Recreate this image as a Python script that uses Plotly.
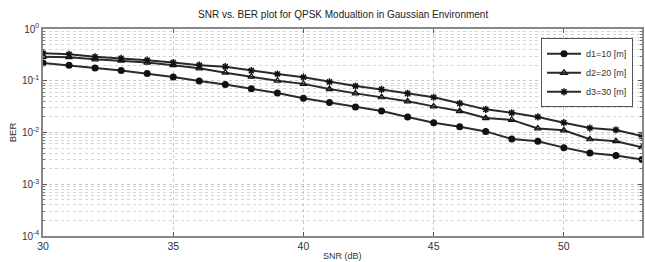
import plotly.graph_objects as go

snr = list(range(30, 54))
ber_d1 = [0.22, 0.20, 0.176, 0.158, 0.138, 0.118, 0.099, 0.085, 0.070, 0.058, 0.046, 0.038,
          0.031, 0.026, 0.020, 0.0155, 0.0129, 0.0105, 0.0075, 0.0068, 0.0051, 0.0040, 0.0036, 0.0030]
ber_d2 = [0.29, 0.285, 0.26, 0.245, 0.224, 0.20, 0.174, 0.143, 0.12, 0.10, 0.087, 0.069,
          0.057, 0.048, 0.040, 0.032, 0.026, 0.019, 0.0175, 0.012, 0.011, 0.0074, 0.0068, 0.0052]
ber_d3 = [0.34, 0.325, 0.29, 0.27, 0.25, 0.224, 0.20, 0.187, 0.157, 0.135, 0.117, 0.095,
          0.079, 0.068, 0.057, 0.048, 0.0366, 0.028, 0.024, 0.020, 0.0155, 0.0122, 0.0112, 0.0085]
series_names = ["d1=10 [m]", "d2=20 [m]", "d3=30 [m]"]
x_ticks = [30, 35, 40, 45, 50]
y_tickvals = [1e-4, 1e-3, 1e-2, 1e-1, 1]
y_ticktext = ["10<sup>-4</sup>", "10<sup>-3</sup>", "10<sup>-2</sup>", "10<sup>-1</sup>", "10<sup>0</sup>"]

minor_vals = [m * d for d in y_tickvals[:-1] for m in range(2, 10)]

FONT = "Liberation Sans, Arial, sans-serif"
fig = go.Figure()
styles = [
    dict(symbol="circle", size=7, color="#111"),
    dict(symbol="triangle-up-open", size=6, color="#111", line=dict(width=1.2, color="#111")),
    dict(symbol="asterisk-open", size=6, color="#111", line=dict(width=1.5, color="#111")),
]
for name, ys, mk in zip(series_names, [ber_d1, ber_d2, ber_d3], styles):
    fig.add_trace(go.Scatter(x=snr, y=ys, name=name, mode="lines+markers",
                             line=dict(color="#2a2a2a", width=2), marker=mk))

grid = "#c8c8c8"
fig.update_layout(
    width=645, height=262,
    margin=dict(l=43, r=3, t=29, b=26),
    paper_bgcolor="white", plot_bgcolor="white",
    font=dict(family=FONT, size=10, color="#333"),
    title=dict(text="SNR vs. BER plot for QPSK Modualtion in Gaussian Environment",
               x=0.532, xanchor="center", y=0.943, yanchor="middle",
               font=dict(size=10, color="#222")),
    showlegend=True,
    legend=dict(x=0.985, y=0.955, xanchor="right", yanchor="top",
                bgcolor="white", bordercolor="#555", borderwidth=1,
                font=dict(size=9), itemwidth=34, tracegroupgap=0),
    xaxis=dict(range=[30, 53], tickvals=x_ticks, showgrid=True, gridcolor=grid,
               griddash="dot", gridwidth=1, zeroline=False, automargin=False,
               showline=True, linecolor="#888", linewidth=1.5, mirror="ticks",
               ticks="inside", ticklen=4, tickcolor="#555",
               tickfont=dict(size=10.5)),
    yaxis=dict(type="log", range=[-4, 0], tickvals=y_tickvals, ticktext=y_ticktext,
               automargin=False,
               showgrid=True, gridcolor=grid, griddash="dot", zeroline=False,
               showline=True, linecolor="#888", linewidth=1.5, mirror="ticks",
               ticks="inside", ticklen=4, tickcolor="#555",
               minor=dict(tickvals=minor_vals, showgrid=True, gridcolor="#d4d4d4",
                          griddash="dot", ticks="inside", ticklen=2, tickcolor="#777"),
               title=dict(text="BER", standoff=4, font=dict(size=9.5)),
               tickfont=dict(size=10)),
    annotations=[dict(text="SNR (dB)", x=0.5, xref="paper", y=0, yref="paper",
                      yanchor="middle", yshift=-20,
                      showarrow=False, font=dict(size=9, color="#333"))],
)
fig.write_html("out.html", config={"displayModeBar": False},
               post_script="document.body.style.margin='0';")
